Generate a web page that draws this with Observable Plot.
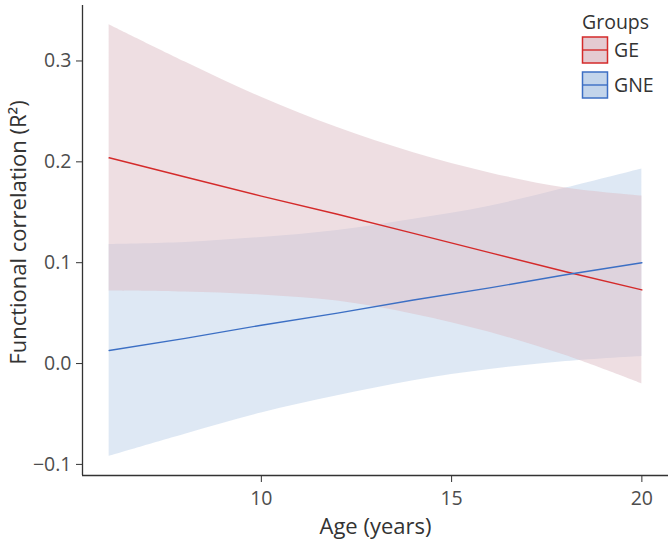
<!DOCTYPE html>
<html><head><meta charset="utf-8">
<script src="https://cdn.jsdelivr.net/npm/d3@7"></script>
<script src="https://cdn.jsdelivr.net/npm/@observablehq/plot@0.6"></script>
<style>
body{margin:0;background:#fff;}
#wrap{position:relative;width:668px;height:543px;font-family:"Open Sans",sans-serif;}
#legend{position:absolute;left:0;top:0;pointer-events:none;}
</style></head><body><div id="wrap"></div>
<script>
// ---- data ----
const groups = ["GE", "GNE"];
const ages = [6, 8, 10, 12, 14, 16, 18, 20];
const geFit  = [0.204, 0.185, 0.166, 0.148, 0.129, 0.110, 0.091, 0.073];
const geLow  = [0.072, 0.071, 0.068, 0.062, 0.049, 0.031, 0.008, -0.020];
const geHigh = [0.336, 0.299, 0.264, 0.234, 0.209, 0.189, 0.174, 0.166];
const gneFit  = [0.013, 0.025, 0.038, 0.050, 0.063, 0.075, 0.088, 0.100];
const gneLow  = [-0.092, -0.070, -0.049, -0.032, -0.017, -0.006, 0.002, 0.007];
const gneHigh = [0.118, 0.120, 0.125, 0.132, 0.143, 0.156, 0.174, 0.193];
const xTicks = [10, 15, 20];
const yTicks = [-0.1, 0.0, 0.1, 0.2, 0.3];
const xTitle = "Age (years)";
const yTitle = "Functional correlation (R\u00B2)";
const legendTitle = "Groups";

const lineColors = {GE: "#d42a2a", GNE: "#3c6fc4"};
const fillColors = {GE: "#ddbdc5", GNE: "#91b2da"};
const fillAlpha = {GE: 0.5, GNE: 0.3};

const series = {
  GE: ages.map((a, i) => ({age: a, fit: geFit[i], low: geLow[i], high: geHigh[i], group: "GE"})),
  GNE: ages.map((a, i) => ({age: a, fit: gneFit[i], low: gneLow[i], high: gneHigh[i], group: "GNE"}))
};

const xDom = [5.3, 20.7], yDom = [-0.111, 0.355];
const fs = "19.5px";

const chart = Plot.plot({
  width: 668, height: 543,
  marginLeft: 82, marginRight: 0, marginTop: 5, marginBottom: 68,
  style: {fontFamily: "Open Sans", fontSize: fs, color: "#333", background: "#fff", overflow: "visible"},
  x: {domain: xDom},
  y: {domain: yDom},
  marks: [
    Plot.areaY(series.GNE, {x: "age", y1: "low", y2: "high", fill: fillColors.GNE, fillOpacity: fillAlpha.GNE, curve: "catmull-rom"}),
    Plot.areaY(series.GE, {x: "age", y1: "low", y2: "high", fill: fillColors.GE, fillOpacity: fillAlpha.GE, curve: "catmull-rom"}),
    Plot.line(series.GE, {x: "age", y: "fit", stroke: lineColors.GE, strokeWidth: 1.4}),
    Plot.line(series.GNE, {x: "age", y: "fit", stroke: lineColors.GNE, strokeWidth: 1.4}),
    Plot.axisX({ticks: xTicks, tickSize: 7, tickPadding: 9, label: null, stroke: "#333", fill: "#4d4d4d", fontSize: fs}),
    Plot.axisY({ticks: yTicks, tickSize: 6, tickPadding: 5, label: null, tickFormat: d3.format(".1f"), stroke: "#333", fill: "#4d4d4d", fontSize: fs}),
    Plot.ruleX([xDom[0]], {stroke: "#333", strokeWidth: 1.3}),
    Plot.ruleY([yDom[0]], {stroke: "#333", strokeWidth: 1.3}),
    Plot.text([xTitle], {frameAnchor: "bottom", dy: 58, fontSize: 22, fill: "#333"}),
    Plot.text([yTitle], {frameAnchor: "left", dx: -64, dy: -8, rotate: -90, textAnchor: "middle", fontSize: 22, fill: "#333"})
  ]
});
document.getElementById("wrap").appendChild(chart);

// legend overlay (real text)
const svg = d3.select("#wrap").append("svg").attr("id", "legend").attr("width", 668).attr("height", 543)
  .style("font-family", "'Open Sans', sans-serif").style("font-size", fs);
svg.append("text").attr("x", 582).attr("y", 22).attr("dy", "0.35em").attr("fill", "#333").text(legendTitle);
groups.forEach((g, i) => {
  const y0 = 37 + i * 35;
  svg.append("rect").attr("x", 582.5).attr("y", y0).attr("width", 25).attr("height", 26)
    .attr("fill", fillColors[g]).attr("fill-opacity", g === "GE" ? 0.8 : 0.55)
    .attr("stroke", lineColors[g]).attr("stroke-width", 1.5);
  svg.append("line").attr("x1", 582.5).attr("x2", 607.5).attr("y1", y0 + 13).attr("y2", y0 + 13)
    .attr("stroke", lineColors[g]).attr("stroke-width", 1.4);
  svg.append("text").attr("x", 614).attr("y", y0 + 13).attr("dy", "0.35em").attr("fill", "#333").text(g);
});
</script>
</body></html>
